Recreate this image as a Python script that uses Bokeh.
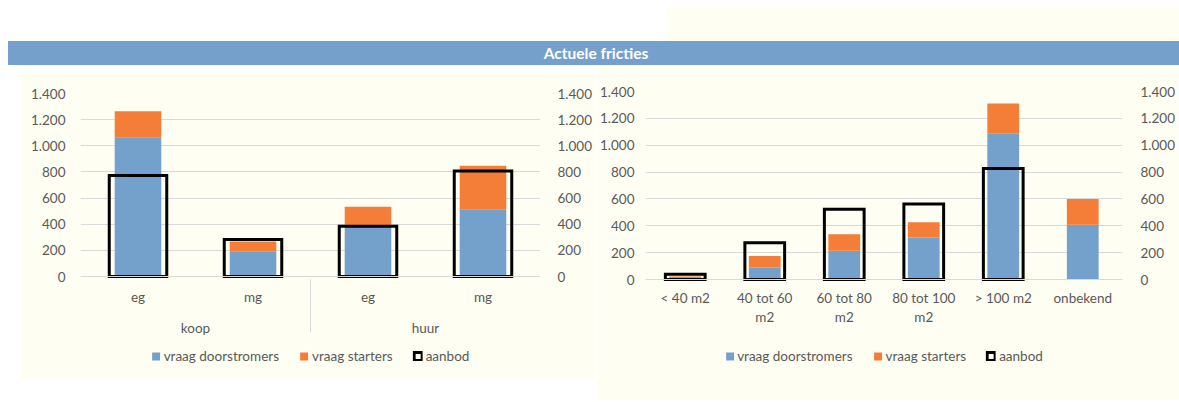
from bokeh.plotting import figure
from bokeh.models import (FactorRange, Range1d, LinearAxis, CategoricalAxis, Legend, LegendItem, Div,
                          ColumnDataSource, FixedTicker, CustomJSTickFormatter)
from bokeh.layouts import row, column
from bokeh.embed import file_html
from bokeh.resources import INLINE

# ---------------- data ----------------
title_text = "Actuele fricties"
series_names = ["vraag doorstromers", "vraag starters", "aanbod"]

left_groups = ["koop", "koop", "huur", "huur"]
left_types = ["eg", "mg", "eg", "mg"]
left_doorstromers = [1065, 190, 385, 510]
left_starters = [200, 78, 148, 338]
left_aanbod = [772, 283, 385, 808]

right_cats = ["< 40 m2", "40 tot 60 m2", "60 tot 80 m2", "80 tot 100 m2", "> 100 m2", "onbekend"]
right_label_line1 = ["< 40 m2", "40 tot 60", "60 tot 80", "80 tot 100", "> 100 m2", "onbekend"]
right_label_line2 = ["", "m2", "m2", "m2", "", ""]
right_doorstromers = [8, 90, 215, 313, 1090, 408]
right_starters = [14, 85, 122, 114, 220, 192]
right_aanbod = [40, 273, 524, 563, 826, float("nan")]

tick_values = [0, 200, 400, 600, 800, 1000, 1200, 1400]
tick_labels = ["0", "200", "400", "600", "800", "1.000", "1.200", "1.400"]

# ---------------- style ----------------
BLUE = "#74A0CC"
ORANGE = "#F47D37"
BG = "#FFFEF2"
GRID = "#D9D9D9"
TXT = "#595959"
FONT = "Lato"
FS = "13.5px"


def no_ticks(ax):
    ax.major_tick_line_color = None
    ax.minor_tick_line_color = None
    ax.major_tick_out = 0
    ax.major_tick_in = 0
    ax.minor_tick_out = 0
    ax.minor_tick_in = 0


def style_y(ax, standoff):
    ax.ticker = FixedTicker(ticks=tick_values)
    ax.major_label_overrides = dict(zip(tick_values, tick_labels))
    ax.axis_line_color = None
    no_ticks(ax)
    ax.major_label_text_font = FONT
    ax.major_label_text_font_size = FS
    ax.major_label_text_color = TXT
    ax.major_label_standoff = standoff


def style_x(ax):
    ax.axis_line_color = GRID
    no_ticks(ax)
    ax.major_label_text_font = FONT
    ax.major_label_text_font_size = FS
    ax.major_label_text_color = TXT
    ax.major_label_orientation = "horizontal"
    ax.fixed_location = 0


def label_formatter(keys, labels):
    return CustomJSTickFormatter(
        args=dict(keys=list(keys), labels=list(labels)),
        code="const i = keys.indexOf(tick); return i < 0 ? tick : labels[i];")


def make_legend(rs, rb, margin):
    lg = Legend(items=[LegendItem(label=series_names[0], renderers=[rs[0]]),
                       LegendItem(label=series_names[1], renderers=[rs[1]]),
                       LegendItem(label=series_names[2], renderers=[rb])],
                orientation="horizontal", location="bottom_center",
                glyph_width=10, glyph_height=10, label_standoff=3, spacing=20,
                padding=0, margin=margin, border_line_color=None, background_fill_alpha=0,
                label_text_font=FONT, label_text_font_size=FS, label_text_color=TXT,
                label_height=14)
    return lg


# ---------------- left chart ----------------
factors = list(zip(left_groups, left_types))
src1 = ColumnDataSource(dict(x=factors, d=left_doorstromers, s=left_starters, a=left_aanbod))
p1 = figure(x_range=FactorRange(*factors, factor_padding=0, group_padding=0, range_padding=0),
            y_range=Range1d(-780, 1400), frame_width=460, frame_height=285,
            output_backend="svg", toolbar_location=None,
            min_border_left=60, min_border_right=56, min_border_top=20, min_border_bottom=2,
            background_fill_color=BG, border_fill_color=BG, outline_line_color=None)
rs1 = p1.vbar_stack(["d", "s"], x="x", width=0.405, fill_color=[BLUE, ORANGE],
                    line_color=None, source=src1)
rb1 = p1.vbar(x="x", top="a", width=0.5, source=src1, fill_color=None,
              line_color="black", line_width=3, line_join="miter")
p1.add_layout(LinearAxis(), "right")
style_y(p1.yaxis[0], 15)
style_y(p1.yaxis[1], 17)
style_x(p1.xaxis[0])
p1.xaxis[0].group_text_font = FONT
p1.xaxis[0].group_text_font_size = FS
p1.xaxis[0].group_text_font_style = "normal"
p1.xaxis[0].group_text_color = TXT
p1.xaxis[0].separator_line_color = GRID
p1.xaxis[0].separator_line_width = 1
p1.xaxis[0].major_label_standoff = 12
p1.xgrid.visible = False
p1.ygrid.grid_line_color = GRID
p1.add_layout(make_legend(rs1, rb1, 14))

# ---------------- right chart ----------------
src2 = ColumnDataSource(dict(x=right_cats, d=right_doorstromers, s=right_starters, a=right_aanbod))
p2 = figure(x_range=FactorRange(*right_cats, range_padding=0), y_range=Range1d(-886, 1400),
            frame_width=477, frame_height=307, output_backend="svg", toolbar_location=None,
            min_border_left=49, min_border_right=57, min_border_top=26, min_border_bottom=2,
            background_fill_color=BG, border_fill_color=BG, outline_line_color=None)
rs2 = p2.vbar_stack(["d", "s"], x="x", width=0.40, fill_color=[BLUE, ORANGE],
                    line_color=None, source=src2)
rb2 = p2.vbar(x="x", top="a", width=0.5, source=src2, fill_color=None,
              line_color="black", line_width=3, line_join="miter")
p2.add_layout(LinearAxis(), "right")
style_y(p2.yaxis[0], 11)
style_y(p2.yaxis[1], 18)
style_x(p2.xaxis[0])
p2.xaxis[0].formatter = label_formatter(right_cats, right_label_line1)
p2.xaxis[0].major_label_standoff = 10
second_x = CategoricalAxis()
p2.add_layout(second_x, "below")
style_x(second_x)
second_x.axis_line_color = None
second_x.formatter = label_formatter(right_cats, right_label_line2)
second_x.major_label_standoff = 29
p2.xgrid.visible = False
p2.ygrid.grid_line_color = GRID
p2.add_layout(make_legend(rs2, rb2, 34))

# ---------------- page layout ----------------
def blank(w, h, color="white"):
    return Div(text="", width=w, height=h, margin=0, styles={"background-color": color})

header = Div(text=title_text, width=1171, height=24, margin=0,
             styles={"background-color": "#74A0CB", "color": "white", "font-weight": "bold",
                     "font-family": FONT, "font-size": "15.5px", "line-height": "24px",
                     "text-align": "center", "padding-left": "5px", "box-sizing": "border-box"})

layout = column(blank(1179, 7),
                row(blank(667, 34), blank(512, 34, BG), spacing=0),
                row(blank(8, 24), header, spacing=0),
                row(blank(20, 335),
                    column(blank(576, 8), p1, blank(576, 20), spacing=0),
                    p2, spacing=0),
                spacing=0)

open("out.html", "w").write(file_html(layout, INLINE))
